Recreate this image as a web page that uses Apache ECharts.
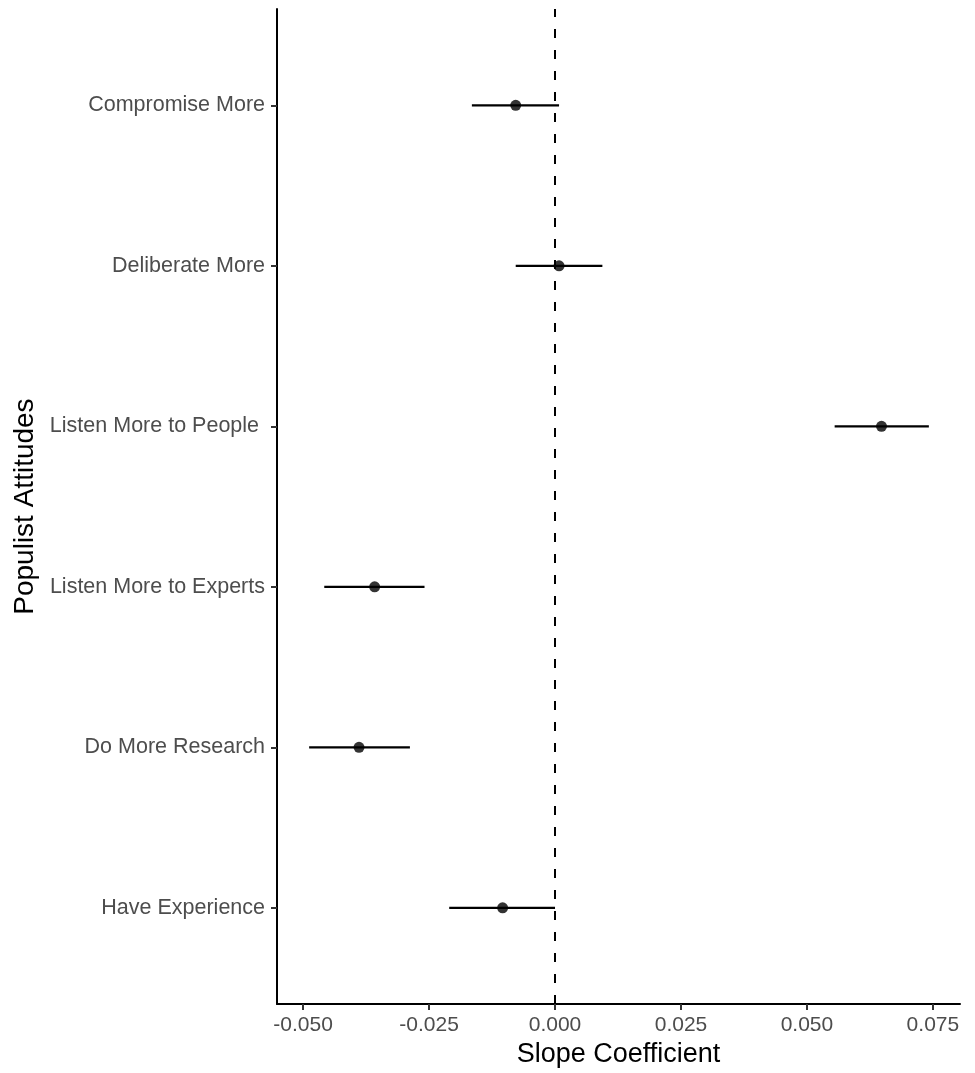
<!DOCTYPE html>
<html>
<head>
<meta charset="utf-8">
<script src="https://cdn.jsdelivr.net/npm/echarts@6/dist/echarts.min.js"></script>
<style>
html,body{margin:0;padding:0;background:#fff;overflow:hidden;}
#chart{width:975px;height:1073px;}
</style>
</head>
<body>
<div id="chart"></div>
<script>
// Categories, bottom to top
const categories = ["Have Experience", "Do More Research", "Listen More to Experts", "Listen More to People ", "Deliberate More", "Compromise More"];
const estimates = [-0.0104, -0.0389, -0.0358, 0.0648, 0.0008, -0.0078];
const lowerCI   = [-0.0210, -0.0488, -0.0458, 0.0555, -0.0078, -0.0165];
const upperCI   = [0.0000, -0.0288, -0.0259, 0.0742, 0.0094, 0.0008];
const xTicks = [-0.05, -0.025, 0, 0.025, 0.05, 0.075];
const refLine = 0;

const yPos = categories.map((c, i) => i + 1);

const chart = echarts.init(document.getElementById('chart'), null, {renderer: 'canvas', width: 975, height: 1073});
const font = 'Liberation Sans, Arial, Helvetica, sans-serif';

chart.setOption({
  animation: false,
  backgroundColor: '#ffffff',
  grid: {left: 277, right: 15, top: 9, bottom: 54, containLabel: false},
  xAxis: {
    type: 'value',
    min: -0.05518, max: 0.08038,
    name: 'Slope Coefficient',
    nameLocation: 'middle',
    nameGap: 36,
    nameTextStyle: {color: '#000', fontSize: 27, fontFamily: font},
    axisLine: {show: true, onZero: false, lineStyle: {color: '#000', width: 2}},
    axisTick: {show: true, length: 6, lineStyle: {color: '#333', width: 2}, customValues: xTicks},
    axisLabel: {color: '#4d4d4d', fontSize: 21, fontFamily: font, margin: 11,
      customValues: xTicks,
      formatter: v => v.toFixed(3)},
    splitLine: {show: false}
  },
  yAxis: {
    type: 'value',
    min: 0.4, max: 6.6,
    name: 'Populist Attitudes',
    nameLocation: 'middle',
    nameGap: 238,
    nameRotate: 90,
    nameTextStyle: {color: '#000', fontSize: 28, fontFamily: font},
    axisLine: {show: true, onZero: false, lineStyle: {color: '#000', width: 2}},
    axisTick: {show: true, length: 6, lineStyle: {color: '#333', width: 2}, customValues: yPos},
    axisLabel: {color: '#4d4d4d', fontSize: 21.5, fontFamily: font, margin: 12,
      customValues: yPos,
      formatter: v => categories[Math.round(v) - 1] || ''},
    splitLine: {show: false}
  },
  series: [
    {
      type: 'custom',
      data: yPos.map((y, i) => [lowerCI[i], upperCI[i], y]),
      renderItem: function (params, api) {
        const p1 = api.coord([api.value(0), api.value(2)]);
        const p2 = api.coord([api.value(1), api.value(2)]);
        return {type: 'line', shape: {x1: p1[0], y1: p1[1], x2: p2[0], y2: p2[1]},
          style: {stroke: '#000', lineWidth: 2.2}};
      },
      encode: {x: [0, 1], y: 2},
      z: 3,
      markLine: {
        silent: true,
        symbol: ['none', 'none'],
        label: {show: false},
        lineStyle: {color: '#000', width: 2, type: [9, 12]},
        data: [{xAxis: refLine}]
      }
    },
    {
      type: 'scatter',
      data: yPos.map((y, i) => [estimates[i], y]),
      symbol: 'circle',
      symbolSize: 11,
      itemStyle: {color: '#000'},
      z: 4
    }
  ]
});
</script>
</body>
</html>
